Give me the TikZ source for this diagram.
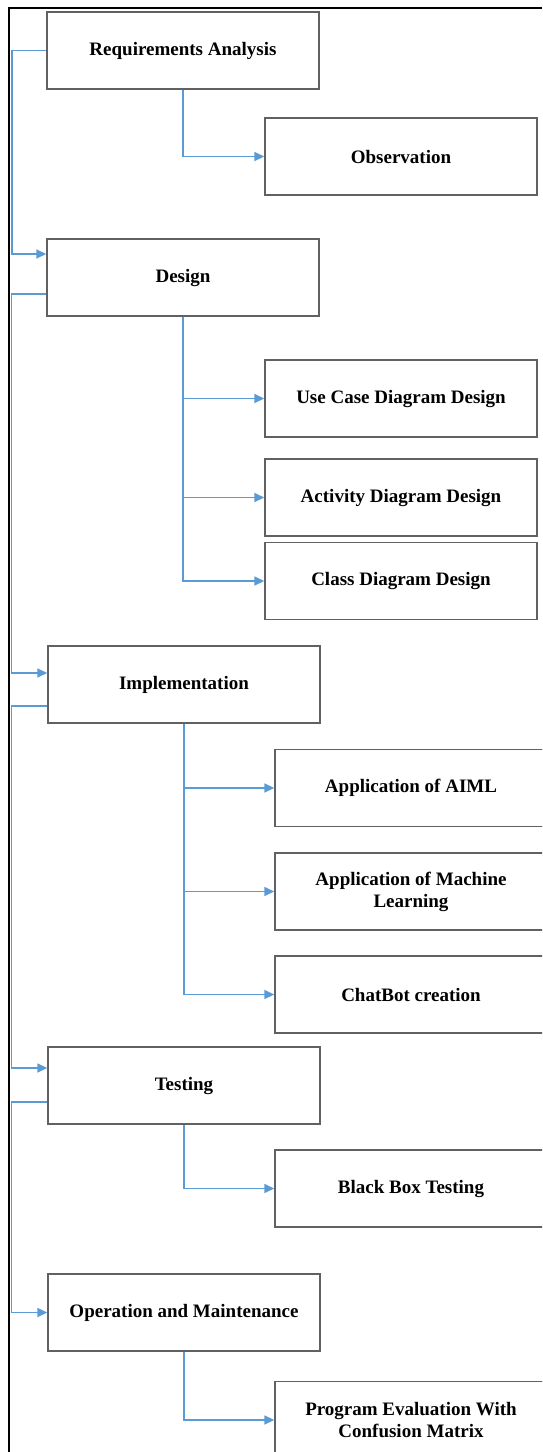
\documentclass[tikz,border=0pt]{standalone}
\usepackage{fontspec}
\setmainfont{Liberation Serif}
\usepackage{tikz}
\usetikzlibrary{arrows.meta, positioning}
\usepackage{xcolor}
\definecolor{linkblue}{HTML}{5B9BD5}

\begin{document}
\begin{tikzpicture}[x=1pt, y=-1pt,
  block/.style={rectangle, draw=black!62, line width=1.4pt, fill=white, minimum width=272pt, minimum height=77pt, align=center, font=\fontsize{19}{22}\selectfont\bfseries, inner sep=0pt},
  link/.style={draw=linkblue, line width=1.6pt},
  arrow/.style={link, -{Triangle[length=10pt, width=9pt]}}
]
\clip (0,0) rectangle (542,1452);
\useasboundingbox (0,0) rectangle (542,1452);

% outer frame
\draw[line width=2.6pt] (542,8) -- (9,8) -- (9,1460);

% main phases
\node[block] (req) at (183,50.5) {Requirements Analysis};
\node[block] (design) at (183,277.5) {Design};
\node[block] (impl) at (184,684.5) {Implementation};
\node[block] (test) at (184,1085.5) {Testing};
\node[block] (ops) at (184,1312.5) {Operation and Maintenance};

% sub tasks
\node[block] (obs) at (401,156.5) {Observation};
\node[block] (usecase) at (401,398.5) {Use Case Diagram Design};
\node[block] (activity) at (401,497.5) {Activity Diagram Design};
\node[block] (class) at (401,581) {Class Diagram Design};
\node[block] (aiml) at (411,788) {Application of AIML};
\node[block] (ml) at (411,891.5) {Application of Machine\\Learning};
\node[block] (chatbot) at (411,994.5) {ChatBot creation};
\node[block] (blackbox) at (411,1188.5) {Black Box Testing};
\node[block] (eval) at (411,1420) {Program Evaluation With\\Confusion Matrix};

% phase to phase
\draw[arrow] (req.west) -- ++(-34.5,0) |- ([yshift=23.5pt]design.west);
\draw[arrow] ([yshift=-16.5pt]design.west) -- ++(-35,0) |- ([yshift=11.5pt]impl.west);
\draw[arrow] ([yshift=-21.5pt]impl.west) -- ++(-36,0) |- ([yshift=17.5pt]test.west);
\draw[arrow] ([yshift=-16.5pt]test.west) -- ++(-36,0) |- (ops.west);

% phase to sub tasks
\draw[arrow] (req.south) |- (obs.west);
\draw[arrow] (design.south) |- (usecase.west);
\draw[arrow] (design.south) |- (activity.west);
\draw[arrow] (design.south) |- (class.west);
\draw[arrow] (impl.south) |- (aiml.west);
\draw[arrow] (impl.south) |- (ml.west);
\draw[arrow] (impl.south) |- (chatbot.west);
\draw[arrow] (test.south) |- (blackbox.west);
\draw[arrow] (ops.south) |- (eval.west);
\end{tikzpicture}
\end{document}
